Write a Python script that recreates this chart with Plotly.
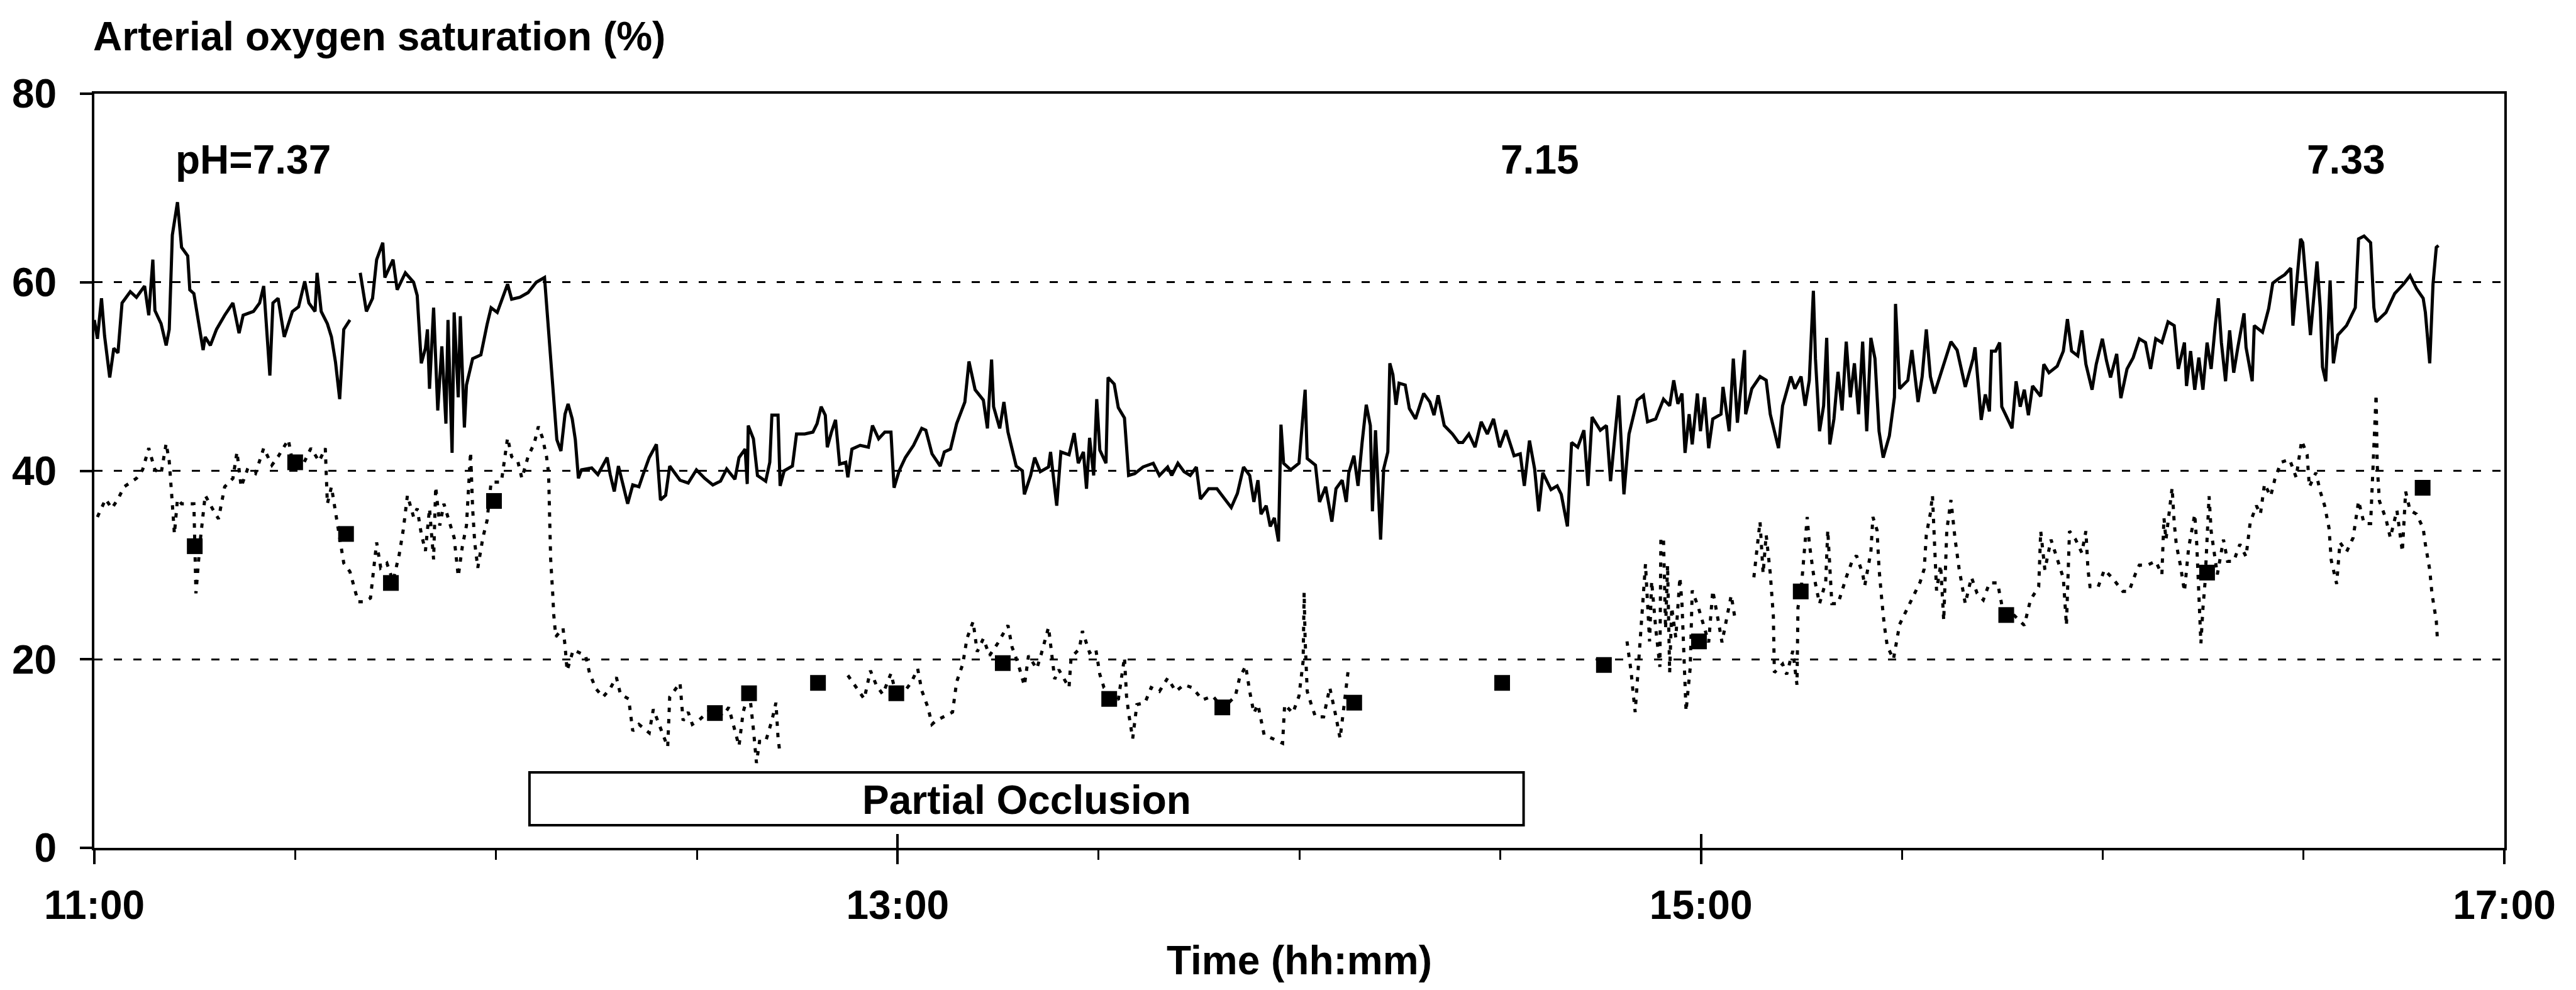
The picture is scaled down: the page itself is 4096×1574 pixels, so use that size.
import pandas as pd
import plotly.graph_objects as go

# ---------------- data (minutes after 11:00, saturation %) ----------------
arterial_minutes = [
    0.0, 0.46, 1.07, 1.53, 2.30, 2.91, 3.53, 4.14, 5.37, 6.29, 7.51, 8.13, 8.74, 9.05, 9.97, 10.73, 11.19,
    11.65, 12.42, 13.03, 13.95, 14.26, 14.87, 15.79, 16.25, 16.56, 17.33, 18.25, 19.47, 20.70, 21.62, 22.23,
    23.77, 24.69, 25.30, 26.22, 26.68, 27.45, 28.37, 29.59, 30.51, 31.43, 32.05, 32.97, 33.27, 33.89, 34.81,
    35.42, 36.03, 36.65, 37.26, 38.18, 38.9, 39.72, 40.64, 41.56, 42.17, 43.09, 43.40, 44.62, 45.24, 46.46,
    47.69, 48.23, 48.84, 49.46, 49.76, 50.07, 50.68, 51.30, 51.91, 52.52, 52.83, 53.44, 53.75, 54.36, 54.67,
    55.28, 55.59, 56.51, 57.74, 58.66, 59.27, 60.19, 61.11, 61.73, 62.34, 63.56, 64.79, 66.02, 67.25, 67.55,
    67.86, 68.47, 69.09, 69.70, 70.31, 70.77, 71.39, 71.85, 72.31, 72.77, 74.30, 75.22, 76.60, 77.06, 77.67,
    78.29, 78.90, 79.67, 80.43, 81.35, 81.97, 82.89, 83.96, 84.57, 85.34, 85.95, 87.49, 88.71, 89.94, 91.17,
    92.39, 93.54, 94.46, 95.69, 96.30, 97.22, 97.53, 97.68, 98.45, 99.06, 100.29, 100.90, 101.21, 102.13,
    102.44, 103.05, 104.28, 104.89, 106.12, 107.34, 107.96, 108.57, 109.19, 109.49, 110.11, 110.72, 111.33,
    112.25, 112.56, 113.17, 114.40, 115.63, 116.24, 117.16, 118.08, 119.00, 119.46, 120.23, 121.15, 122.37,
    123.60, 124.21, 125.13, 126.36, 126.97, 127.89, 128.81, 130.04, 130.65, 131.57, 132.80, 133.41, 134.03,
    134.33, 135.25, 135.87, 136.48, 137.09, 137.71, 138.63, 138.93, 139.86, 140.47, 141.31, 142.54, 142.84,
    143.76, 144.38, 145.60, 146.37, 146.98, 147.75, 148.21, 148.67, 149.28, 149.74, 150.20, 151.12, 151.43,
    152.35, 152.96, 153.88, 154.50, 155.42, 156.65, 158.18, 159.10, 160.33, 160.94, 161.86, 162.78, 163.70,
    164.62, 165.23, 166.46, 167.69, 168.61, 169.83, 170.75, 171.67, 172.59, 173.21, 173.82, 174.28, 175.05,
    175.66, 176.27, 176.89, 177.26, 177.65, 178.73, 179.95, 180.87, 181.18, 182.41, 183.02, 183.94, 184.86,
    185.48, 186.40, 187.01, 187.39, 188.16, 188.77, 189.38, 190.00, 190.61, 190.92, 191.38, 191.84, 192.14,
    192.60, 193.22, 193.52, 193.98, 194.44, 194.90, 195.82, 196.44, 197.36, 198.58, 199.50, 200.12, 200.73,
    201.65, 202.88, 203.80, 204.41, 205.33, 206.25, 207.17, 208.09, 209.01, 209.93, 210.85, 212.08, 213.00,
    213.61, 214.38, 215.15, 215.76, 216.37, 217.60, 218.52, 219.13, 220.05, 220.67, 221.59, 222.51, 223.12,
    223.73, 224.96, 225.88, 226.49, 227.11, 227.72, 228.49, 229.25, 230.48, 231.40, 232.02, 233.24, 234.40,
    235.32, 235.93, 236.55, 237.16, 237.62, 238.23, 238.69, 239.46, 239.92, 240.53, 241.15, 241.76, 242.99,
    243.29, 244.21, 244.83, 245.44, 246.51, 246.67, 247.59, 248.82, 249.74, 250.35, 251.58, 252.19, 253.42,
    254.03, 254.95, 255.56, 256.18, 256.79, 257.10, 257.71, 258.32, 258.78, 259.24, 259.86, 260.47, 261.08,
    261.70, 262.31, 262.92, 263.54, 264.15, 264.76, 265.38, 265.99, 266.60, 267.22, 268.14, 268.90, 269.06,
    269.67, 270.90, 271.51, 272.43, 273.04, 273.66, 274.27, 274.88, 276.11, 277.34, 278.26, 279.48, 280.65,
    280.94, 281.55, 281.86, 282.47, 283.09, 283.39, 284.01, 284.62, 284.93, 285.54, 286.46, 287.07, 287.69,
    288.30, 288.91, 289.53, 290.75, 291.21, 291.98, 293.21, 294.13, 294.74, 295.36, 296.28, 296.89, 297.50,
    298.42, 299.04, 299.96, 300.57, 301.18, 302.10, 302.72, 303.64, 304.56, 305.48, 306.40, 307.16, 307.93,
    308.85, 309.77, 310.69, 311.30, 312.22, 312.53, 313.14, 313.76, 314.37, 314.98, 315.60, 316.21, 316.82,
    317.28, 317.74, 318.36, 318.97, 319.58, 320.20, 321.12, 321.42, 322.34, 322.65, 323.88, 324.80, 325.41,
    326.33, 327.19, 328.10, 328.42, 328.91, 329.57, 329.89, 330.55, 331.04, 331.53, 332.02, 332.51, 332.84,
    333.33, 333.98, 334.47, 335.13, 336.43, 337.09, 337.74, 338.23, 339.05, 340.03, 340.52, 340.85, 342.32,
    343.63, 344.94, 345.92, 346.90, 347.88, 348.21, 348.86, 349.35, 349.84, 350.17,
]
arterial_values = [
    56, 54, 58.3, 54.3, 49.9, 53, 52.5, 57.8, 59, 58.4, 59.6, 56.5, 62.4, 57, 55.6, 53.3, 55,
    65, 68.5, 63.7, 62.8, 59.2, 58.8, 54.6, 52.8, 54.2, 53.3, 55, 56.5, 57.8, 54.6, 56.5,
    56.9, 57.8, 59.6, 50.1, 57.8, 58.3, 54.2, 56.9, 57.4, 60.1, 57.8, 56.9, 61, 56.9, 55.6,
    54.2, 51.5, 47.6, 55, 56, None, 61, 56.9, 58.3, 62.4, 64.2, 60.5, 62.4, 59.2, 61,
    60, 58.6, 51.4, 53, 55, 48.7, 57.3, 46.4, 53.2, 45, 56, 41.9, 56.8, 47.8, 56.4,
    44.6, 49.1, 51.9, 52.3, 55.5, 57.3, 56.8, 58.6, 59.8, 58.2, 58.4, 58.9, 60, 60.5, 57.7,
    55, 48.7, 43.3, 42.1, 46, 47.1, 45.5, 43.3, 39.2, 40.1, 40.3, 39.6, 41.4, 39.6, 37.8,
    40.5, 38.7, 36.5, 38.5, 38.3, 39.6, 41.4, 42.8, 36.9, 37.4, 40.5, 39, 38.7, 40.1, 39.2,
    38.5, 38.9, 40.2, 39.1, 41.4, 42.3, 38.6, 44.8, 43.4, 39.5, 38.9, 40.9, 45.9, 45.9,
    38.4, 40, 40.5, 43.9, 43.9, 44.1, 45, 46.8, 45.9, 42.5, 44.1, 45.4, 40.7,
    40.9, 39.3, 42.3, 42.7, 42.5, 44.8, 43.4, 44.1, 44.1, 38.2, 40, 41.4, 42.7,
    44.5, 44.3, 41.8, 40.5, 42, 42.3, 45, 47.3, 51.6, 48.6, 47.5, 44.5, 51.8,
    46.8, 44.5, 47.3, 44.1, 42.3, 40.5, 40, 37.5, 39.5, 41.4, 39.9, 40.4, 42,
    36.3, 42, 41.7, 44, 40.8, 42, 38.1, 43.5, 39.5, 47.6, 42.2, 40.8, 49.9,
    49.2, 46.7, 45.6, 39.5, 39.7, 40.4, 40.8, 39.5, 40.4, 39.5, 40.8, 39.9, 39.5,
    40.4, 37, 38.1, 38.1, 37.2, 36.1, 37.6, 40.4, 39.5, 36.7, 39, 35.4, 36.3,
    34.1, 35, 32.5, 44.9, 40.8, 40.1, 40.8, 48.6, 41.3, 40.6, 36.7, 38.3, 34.6,
    38.1, 39, 36.7, 39.8, 41.6, 38.4, 43, 47, 44.8, 35.7, 44.3, 38, 32.7,
    40.2, 42, 51.4, 50.2, 47, 49.3, 49.1, 46.6, 45.5, 48.2, 47.3, 45.9, 48,
    44.8, 43.9, 43, 43, 43.9, 42.5, 45.2, 43.9, 45.5, 42.5, 44.3, 41.6, 41.8,
    38.4, 43.2, 40.2, 35.7, 39.8, 38, 38.4, 37.5, 34.1, 43, 42.5, 44.3, 38.4,
    45.7, 44.3, 44.8, 38.9, 43.9, 48, 37.5, 43.9, 47.5, 48, 45.2, 45.5, 47.6,
    46.9, 49.6, 47.1, 48.2, 41.9, 46, 42.8, 48.2, 44.2, 47.8, 42.4, 45.5, 46,
    48.9, 44.2, 51.9, 45.1, 52.8, 46, 48.7, 50, 49.6, 46, 42.4, 46.9, 50,
    48.7, 50, 46.9, 49.6, 59.1, 51.9, 44.2, 46.9, 54.1, 42.8, 45.5, 50.5, 46.4,
    53.7, 47.8, 51.4, 46, 53.7, 44.2, 54.1, 51.9, 44.2, 41.4, 43.7, 47.8, 57.7,
    48.7, 49.6, 52.8, 47.3, 50, 55, 50, 48.2, 51, 53.7, 52.8, 48.9, 51.9,
    53.1, 48.1, 45.4, 48.1, 46.3, 52.7, 52.7, 53.6, 46.8, 45.9, 44.5, 49.5, 46.8,
    48.6, 45.9, 49, 47.9, 51.3, 50.4, 51.1, 52.7, 56.1, 52.7, 52.2, 54.9, 51.3,
    48.6, 51.3, 54, 51.7, 49.9, 52.4, 47.7, 50.8, 52, 54, 53.6, 50.8, 54,
    53.6, 55.8, 55.4, 50.8, 53.6, 49, 52.7, 48.6, 52, 48.6, 53.6, 50.8, 55.4,
    58.3, 53.6, 49.5, 54.9, 50.4, 53.1, 56.7, 53.1, 49.5, 55.4, 54.7, 57.2, 59.9,
    60.4, 60.8, 61.5, 55.4, 59.3, 64.6, 64.2, 58.8, 54.4, 58.3, 62.2, 57.3, 51,
    49.5, 60.2, 51.4, 54.4, 55.4, 56.3, 57.3, 64.6, 64.9, 64.2, 57.3, 55.8, 56.8,
    58.8, 59.8, 60.7, 59.3, 58.3, 56.8, 51.4, 59.8, 63.7, 63.9,
]

venous_minutes = [
    0.46, 1.07, 1.69, 2.61, 3.53, 4.45, 5.37, 6.29, 7.21, 8.13, 9.05, 9.97, 10.73, 11.19, 11.65, 11.96,
    12.42, 13.03, 14.87, 15.18, 15.79, 16.56, 17.63, 18.55, 19.47, 20.70, 21.31, 21.93, 22.85, 24.07, 25.30,
    26.53, 27.45, 28.98, 29.59, 31.13, 32.36, 33.58, 34.50, 34.81, 35.42, 36.65, 37.26, 38.18, 39.41, 40.33,
    41.25, 42.17, 42.78, 43.70, 44.62, 45.54, 46.16, 46.77, 47.69, 48.23, 48.84, 49.46, 50.07, 50.68, 50.99,
    51.60, 52.22, 53.75, 54.36, 54.98, 55.59, 56.20, 56.51, 56.82, 57.28, 58.04, 58.66, 59.27, 60.80, 61.73,
    62.34, 63.26, 63.87, 64.79, 65.71, 66.33, 66.94, 67.55, 67.86, 68.01, 68.17, 68.47, 68.63, 68.93, 70.01,
    70.31, 70.62, 71.54, 73.38, 73.99, 74.91, 75.99, 77.06, 77.98, 78.59, 79.82, 80.43, 81.35, 82.89, 83.50,
    85.65, 85.95, 87.49, 87.95, 88.71, 89.33, 90.25, 91.78, 93.93, 94.77, 95.69, 96.30, 96.92, 97.84, 98.45,
    98.91, 99.37, 100.29, 101.21, 101.82, 102.13, 102.44, 107.0, 112.56, 115.01, 115.93, 116.85, 117.77,
    119.00, 119.92, 121.15, 122.07, 122.99, 123.60, 124.52, 125.13, 125.75, 128.20, 128.81, 129.73, 130.35,
    131.27, 131.88, 132.80, 133.72, 134.95, 136.48, 137.09, 138.01, 138.93, 139.55, 140.77, 141.31, 142.54,
    143.46, 144.07, 145.60, 145.91, 147.14, 147.60, 148.67, 149.59, 150.20, 150.82, 152.96, 153.88, 154.19,
    154.50, 155.11, 155.73, 156.95, 157.87, 159.10, 160.33, 161.55, 162.78, 164.01, 165.54, 167.07, 168.61,
    170.45, 171.06, 171.98, 172.59, 173.21, 173.82, 174.74, 177.50, 177.81, 179.03, 179.95, 180.57, 180.72,
    180.87, 181.18, 181.79, 182.41, 183.63, 184.55, 185.48, 186.09, 186.70, 187.31, 200.0, 228.95, 229.56,
    229.87, 230.17, 231.71, 232.02, 232.32, 232.63, 233.24, 233.86, 234.01, 234.40, 234.71, 235.01, 235.32,
    235.63, 236.24, 236.85, 237.16, 237.77, 238.08, 238.39, 238.69, 239.61, 241.15, 241.76, 242.68, 243.14,
    244.52, 245.13, 246.5, 247.90, 248.82, 249.28, 249.74, 250.35, 250.81, 250.96, 252.19, 252.80, 253.72,
    254.34, 254.49, 254.95, 255.87, 256.18, 256.79, 257.71, 258.63, 258.94, 259.55, 260.47, 261.70, 262.62,
    263.23, 264.15, 264.46, 265.38, 265.68, 266.30, 266.60, 267.06, 267.37, 267.83, 268.75, 269.67, 270.90,
    271.82, 272.74, 273.35, 273.66, 274.27, 274.58, 275.19, 275.80, 276.26, 276.72, 277.34, 277.95, 278.56,
    279.48, 280.40, 281.25, 282.17, 283.09, 284.31, 284.93, 285.54, 286.46, 288.30, 289.22, 290.45, 290.75,
    291.37, 292.29, 293.51, 294.13, 294.59, 295.05, 295.97, 296.89, 297.50, 297.81, 298.12, 299.34, 300.26,
    301.49, 303.02, 303.94, 304.86, 305.48, 306.70, 307.93, 308.85, 309.16, 309.46, 310.38, 310.69, 311.00,
    311.61, 312.22, 312.84, 313.76, 314.06, 314.37, 314.68, 314.98, 315.29, 315.90, 316.21, 317.13, 318.05,
    318.66, 319.58, 320.50, 321.42, 322.04, 322.96, 323.57, 324.18, 325.10, 325.72, 326.64, 327.93, 328.91,
    329.73, 330.55, 330.88, 331.86, 332.51, 333.16, 333.82, 334.15, 334.96, 335.45, 336.43, 337.42, 338.23,
    339.05, 340.03, 340.85, 341.01, 341.34, 342.32, 342.97, 343.96, 344.77, 345.26, 345.92, 346.90, 347.88,
    348.21, 348.86, 349.19, 349.84, 350.00,
]
venous_values = [
    35.1, 36, 37, 36, 37, 38.3, 38.8, 39.2, 40.1, 42.4, 40.1, 39.7, 42.9, 41, 36.5, 33.3,
    37, 36.5, 36.5, 27, 32.4, 37.4, 36, 34.9, 38.3, 39.2, 42, 38.3, 40.1, 39.7, 42.4,
    40.6, 41.5, 43.3, 41, 40.6, 42.4, 41, 42.4, 36.5, 38.3, 32.9, 30.2, 29.3, 26.1, 26.1,
    26.5, 32.4, 29.7, 30.2, 28.3, 31.1, 33.8, 37.4, 35.1, 36, 33.3, 31.5, 36, 30.6, 38.3,
    34.2, 36.5, 32.9, 28.8, 32, 34.2, 42, 36, 32.4, 29.7, 32.9, 34.7, 38.8, 38.8, 43.5,
    41.5, 41, 39.2, 41.5, 42.9, 44.7, 43.5, 41.5, 39.7, 35.1, 30.6, 27, 24.7, 22.4, 23.3,
    21.5, 18.8, 21, 20.4, 18.5, 16.9, 16, 16.9, 18.1, 16.3, 15.8, 12.4, 13.1, 12.2, 14.7,
    10.7, 16, 17.5, 13.5, 14.4, 13.1, 13.5, 14.5, 14, 14.9, 12.6, 10.8, 14.4, 16.7, 12.6,
    9, 11.3, 11.3, 13.5, 15.4, 11.7, 9.9, None, 18.3, 15.8, 18.8, 17.2, 16.3,
    18.5, 15.8, 16.7, 17.6, 19, 16.7, 14.9, 13.1, 13.5, 14.4, 17.6, 19.5, 22.2,
    24, 20.8, 22.2, 20.4, 21.7, 23.6, 21.3, 19.5, 17.2, 20.4, 19, 20.2, 23.4,
    17.9, 18.9, 17, 20.2, 21.1, 23, 20.7, 21.1, 18.4, 17, 15.7, 20.2, 16.1,
    14.3, 11.6, 15.2, 15.4, 17, 16.6, 18, 16.6, 17.3, 17, 15.7, 16.1, 14.8,
    16.1, 18, 19.3, 16.6, 14.3, 15.2, 12, 11.1, 15.2, 14.3, 16.1, 19.8, 27.1,
    22, 16.6, 15.2, 13.9, 13.9, 17, 13.9, 11.6, 15.2, 18.9, None, 21.9, 18.7,
    16.4, 14.4, 30.1, 25.6, 21.9, 28.3, 23.3, 19.2, 32.9, 32.8, 23.2, 30, 18.6,
    25.5, 22.3, 28.7, 25.9, 14.5, 16.8, 19.1, 27.3, 25.5, 21.8, 27.3, 23.7, 21.8,
    26.8, 24.1, None, 28.7, 34.6, 29.1, 33.2, 29.1, 24.6, 18.6, 19.5, 18.4, 20.9,
    17.3, 25.5, 27.3, 35.1, 32.3, 29.1, 25.9, 28.2, 33.7, 25.9, 25.9, 28.7, 30.5,
    31, 29.1, 27.8, 31.4, 35.1, 33.7, 29.6, 25.9, 23.7, 21.4, 20, 23.7, 25.5,
    26.8, 28.2, 29.6, 33.2, 35.5, 37.4, 27.3, 30, 24.1, 33.7, 36.9, 32.8, 29.6,
    25.9, 28.7, 27, 26.3, 28.1, 28.1, 25.8, 24.9, 24.9, 23.6, 26.3, 27.7, 33.6,
    29.5, 32.7, 30, 28.6, 23.6, 33.6, 32.7, 31.3, 33.6, 29.5, 27.7, 27.7, 29.5,
    28.6, 27.2, 27.2, 29, 30, 30, 30.4, 29, 35, 32.7, 38.2, 34.5, 32.2,
    30, 27.2, 31.8, 35.4, 32.2, 26.8, 21.7, 25.4, 28.1, 37.3, 33.6, 29, 32.7,
    30.4, 30.4, 32.2, 30.9, 34.5, 36.3, 35.4, 38.6, 37.3, 39.1, 40.9, 41.2, 39.3,
    43.2, 41.7, 38.3, 39.8, 37.8, 36.3, 33.9, 30.5, 28, 32.4, 31.4, 32.9, 36.8,
    34.4, 34.4, 48.1, 40.7, 36.8, 34.9, 32.9, 35.8, 31.4, 37.8, 35.8, 35.4, 33.9,
    32.2, 29.5, 27, 24.1, 22.2,
]

sample_minutes = [15.0, 30.0, 37.6, 44.3, 59.7, 92.7, 97.8, 108.1, 119.8, 135.7,
                  151.6, 168.5, 188.2, 210.3, 225.5, 239.7, 254.9, 285.6, 315.6, 347.8]
sample_values = [32.0, 40.9, 33.3, 28.1, 36.8, 14.3, 16.4, 17.5, 16.4, 19.6,
                 15.8, 14.9, 15.4, 17.5, 19.4, 21.9, 27.2, 24.7, 29.2, 38.2]

ph_labels = ["pH=7.37", "7.15", "7.33"]
ph_minutes = [23.7, 215.9, 336.4]
ph_level = 73

occlusion_label = "Partial Occlusion"
occlusion_minutes = [65.0, 213.5]
occlusion_levels = [2.4, 8.0]

x_tick_labels = ["11:00", "13:00", "15:00", "17:00"]
y_tick_values = [0, 20, 40, 60, 80]
y_title = "Arterial oxygen saturation (%)"
x_title = "Time (hh:mm)"

# ---------------- helpers ----------------
DAY = "2000-01-01"
t_start = pd.Timestamp(f"{DAY} {x_tick_labels[0]}")


def to_time(minutes):
    return [t_start + pd.Timedelta(minutes=m) for m in minutes]


tick_times = [pd.Timestamp(f"{DAY} {lbl}") for lbl in x_tick_labels]
x_range = [tick_times[0], tick_times[-1]]

FONT = "Arial, 'Liberation Sans', sans-serif"
FS = 64

fig = go.Figure()

fig.add_trace(go.Scatter(
    x=to_time(venous_minutes), y=venous_values, mode="lines",
    line=dict(color="black", width=5, dash="7px,11px"),
    connectgaps=False, hoverinfo="skip", showlegend=False))

fig.add_trace(go.Scatter(
    x=to_time(arterial_minutes), y=arterial_values, mode="lines",
    line=dict(color="black", width=5),
    connectgaps=False, hoverinfo="skip", showlegend=False))

fig.add_trace(go.Scatter(
    x=to_time(sample_minutes), y=sample_values, mode="markers",
    marker=dict(symbol="square", size=25, color="black"),
    hoverinfo="skip", showlegend=False))

# carrier for the inner half of the crossing major ticks
fig.add_trace(go.Scatter(x=x_range, y=[None, None], xaxis="x2", yaxis="y",
                         mode="lines", showlegend=False, hoverinfo="skip"))

# occlusion bar
occ_times = to_time(occlusion_minutes)
fig.add_shape(type="rect", xref="x", yref="y",
              x0=occ_times[0], x1=occ_times[1],
              y0=occlusion_levels[0], y1=occlusion_levels[1],
              line=dict(color="black", width=4), fillcolor="white", layer="above")
fig.add_annotation(x=occ_times[0] + (occ_times[1] - occ_times[0]) / 2,
                   y=sum(occlusion_levels) / 2 - 0.1, xref="x", yref="y",
                   text=occlusion_label, showarrow=False,
                   font=dict(family=FONT, size=FS, color="black", weight="bold"))

for lbl, m in zip(ph_labels, ph_minutes):
    fig.add_annotation(x=to_time([m])[0], y=ph_level, xref="x", yref="y",
                       text=lbl, showarrow=False, xanchor="center", yanchor="middle",
                       font=dict(family=FONT, size=FS, color="black", weight="bold"))

fig.add_annotation(x=0, y=1, xref="paper", yref="paper", text=y_title,
                   showarrow=False, xanchor="left", yanchor="middle",
                   xshift=-4, yshift=91,
                   font=dict(family=FONT, size=FS, color="black", weight="bold"))
fig.add_annotation(x=0.5, y=0, xref="paper", yref="paper", text=x_title,
                   showarrow=False, xanchor="center", yanchor="middle",
                   yshift=-179,
                   font=dict(family=FONT, size=FS, color="black", weight="bold"))

fig.update_layout(
    width=4096, height=1574,
    margin=dict(l=150, r=114, t=149, b=226, autoexpand=False),
    plot_bgcolor="white", paper_bgcolor="white",
    showlegend=False,
    font=dict(family=FONT, size=FS, color="black", weight="bold"),
    xaxis=dict(
        type="date", range=x_range,
        tickmode="array", tickvals=tick_times, ticktext=x_tick_labels,
        ticks="outside", ticklen=22, tickwidth=4, tickcolor="black",
        showline=True, linewidth=4, linecolor="black", mirror=True,
        showgrid=False, zeroline=False,
        ticklabelstandoff=10,
        tickfont=dict(family=FONT, size=FS, color="black", weight="bold"),
        minor=dict(tick0=tick_times[0], dtick=30 * 60 * 1000, ticks="outside",
                   ticklen=15, tickwidth=3, tickcolor="black", showgrid=False),
    ),
    xaxis2=dict(
        type="date", range=x_range, overlaying="x", matches="x", anchor="y", side="bottom",
        tickmode="array", tickvals=tick_times, showticklabels=False,
        ticks="inside", ticklen=22, tickwidth=4, tickcolor="black",
        showline=False, showgrid=False, zeroline=False,
    ),
    yaxis=dict(
        range=[y_tick_values[0], y_tick_values[-1]],
        tickmode="array", tickvals=y_tick_values,
        ticks="outside", ticklen=19, tickwidth=4, tickcolor="black",
        showline=True, linewidth=4, linecolor="black", mirror=True,
        showgrid=True, gridcolor="black", gridwidth=3, griddash="13px,18px",
        zeroline=False, ticklabelstandoff=24,
        tickfont=dict(family=FONT, size=FS, color="black", weight="bold"),
    ),
)

fig.write_html("out.html", config={"displayModeBar": False},
               post_script="document.body.style.margin='0';")
